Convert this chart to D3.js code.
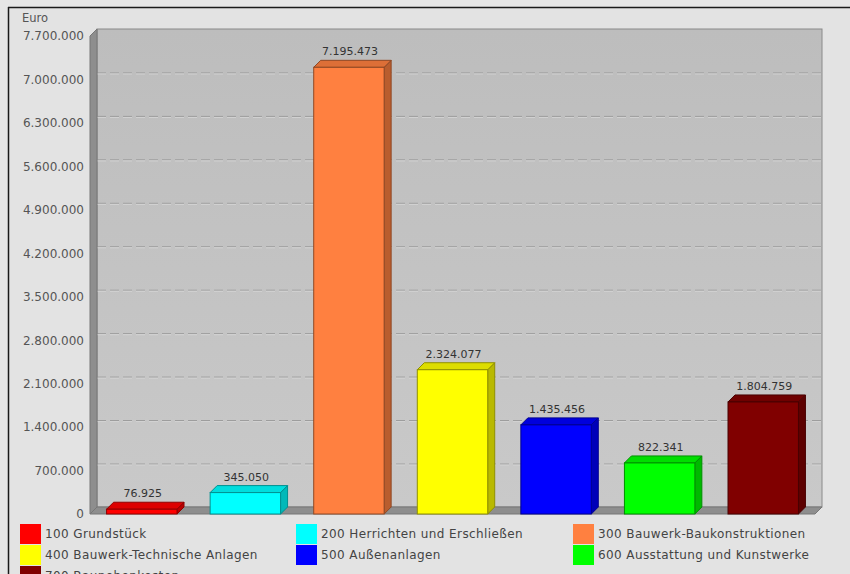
<!DOCTYPE html>
<html>
<head>
<meta charset="utf-8">
<script src="https://cdn.jsdelivr.net/npm/d3@7"></script>
<style>
  html, body { margin: 0; padding: 0; background: #e6e6e6; }
  svg { display: block; }
  text { font-family: "DejaVu Sans", Verdana, sans-serif; }
</style>
</head>
<body>
<svg id="chart" width="850" height="574"></svg>
<script>
// ---- data ----
const categories = [
  "100 Grundstück",
  "200 Herrichten und Erschließen",
  "300 Bauwerk-Baukonstruktionen",
  "400 Bauwerk-Technische Anlagen",
  "500 Außenanlagen",
  "600 Ausstattung und Kunstwerke",
  "700 Baunebenkosten"
];
const values = [76925, 345050, 7195473, 2324077, 1435456, 822341, 1804759];
const colors = ["#ff0000", "#00ffff", "#ff8040", "#ffff00", "#0000ff", "#00ff00", "#800000"];
const yTicks = [0, 700000, 1400000, 2100000, 2800000, 3500000, 4200000, 4900000, 5600000, 6300000, 7000000, 7700000];
const yUnit = "Euro";

// ---- setup ----
const svg = d3.select("#chart");
const de = d3.formatLocale({decimal: ",", thousands: ".", grouping: [3], currency: ["", " €"]});
const fmt = de.format(",.0f");

const x0 = 90, x1 = 815, yTop = 36, yBase = 514, depth = 7;
const x = d3.scaleBand().domain(categories).range([x0, x1]).paddingInner(0.32).paddingOuter(0.16);
const y = d3.scaleLinear().domain([0, 7700000]).range([yBase, yTop]);

// panel background + frame
svg.append("rect").attr("x", 8).attr("y", 7).attr("width", 842).attr("height", 567).attr("fill", "#e3e3e3");
svg.append("line").attr("x1", 8).attr("x2", 850).attr("y1", 7.5).attr("y2", 7.5).attr("stroke", "#1a1a1a").attr("stroke-width", 1.5);
svg.append("line").attr("x1", 8.5).attr("x2", 8.5).attr("y1", 7).attr("y2", 574).attr("stroke", "#1a1a1a").attr("stroke-width", 1.5);

// back wall
const wallGrad = svg.append("defs").append("linearGradient").attr("id", "wall").attr("x1", 0).attr("y1", 0).attr("x2", 0).attr("y2", 1);
wallGrad.append("stop").attr("offset", 0).attr("stop-color", "#bdbdbd");
wallGrad.append("stop").attr("offset", 1).attr("stop-color", "#c9c9c9");
svg.append("rect")
  .attr("x", x0 + depth).attr("y", yTop - depth)
  .attr("width", x1 - x0).attr("height", yBase - yTop)
  .attr("fill", "url(#wall)").attr("stroke", "#8a8a8a").attr("stroke-width", 1);

// gridlines on back wall
const grid = svg.append("g");
yTicks.filter(t => t > 0 && t < 7700000).forEach(t => {
  grid.append("line")
    .attr("x1", x0 + depth).attr("x2", x1 + depth)
    .attr("y1", y(t) - depth + 0.5).attr("y2", y(t) - depth + 0.5)
    .attr("stroke", "#9a9a9a").attr("stroke-dasharray", "9,4");
  grid.append("line")
    .attr("x1", x0 + depth).attr("x2", x1 + depth)
    .attr("y1", y(t) - depth + 1.5).attr("y2", y(t) - depth + 1.5)
    .attr("stroke", "#d4d4d4").attr("stroke-dasharray", "9,4");
});

// left wall
svg.append("path")
  .attr("d", `M${x0},${yTop} L${x0 + depth},${yTop - depth} L${x0 + depth},${yBase - depth} L${x0},${yBase} Z`)
  .attr("fill", "#8e8e8e").attr("stroke", "#777").attr("stroke-width", 1);
// floor
svg.append("path")
  .attr("d", `M${x0},${yBase} L${x0 + depth},${yBase - depth} L${x1 + depth},${yBase - depth} L${x1},${yBase} Z`)
  .attr("fill", "#8e8e8e").attr("stroke", "#777").attr("stroke-width", 1);

// y axis labels
const yAxis = d3.axisLeft(y).tickValues(yTicks).tickFormat(fmt).tickSize(0).tickPadding(6);
const ag = svg.append("g").attr("transform", `translate(${x0},0)`).call(yAxis);
ag.select(".domain").remove();
ag.selectAll("text").attr("font-size", 12).attr("fill", "#555").attr("font-family", "DejaVu Sans, sans-serif");
svg.append("text").attr("x", 22).attr("y", 22).attr("font-size", 11.5).attr("fill", "#555").text(yUnit);

// bars
const bw = x.bandwidth();
const bars = svg.append("g").selectAll("g").data(categories).join("g");
bars.each(function(c, i) {
  const g = d3.select(this);
  const bx = x(c), by = y(values[i]);
  const col = d3.color(colors[i]);
  const edge = col.darker(1.6).formatHex();
  // side
  g.append("path")
    .attr("d", `M${bx + bw},${by} L${bx + bw + depth},${by - depth} L${bx + bw + depth},${yBase - depth} L${bx + bw},${yBase} Z`)
    .attr("fill", col.darker(0.9).formatHex()).attr("stroke", edge).attr("stroke-width", 1);
  // top
  g.append("path")
    .attr("d", `M${bx},${by} L${bx + depth},${by - depth} L${bx + bw + depth},${by - depth} L${bx + bw},${by} Z`)
    .attr("fill", col.darker(0.4).formatHex()).attr("stroke", edge).attr("stroke-width", 1);
  // front
  g.append("rect")
    .attr("x", bx).attr("y", by).attr("width", bw).attr("height", yBase - by)
    .attr("fill", col.formatHex()).attr("stroke", edge).attr("stroke-width", 1);
  // value label
  g.append("text")
    .attr("x", bx + bw / 2 + 1).attr("y", by - depth - 5)
    .attr("text-anchor", "middle").attr("font-size", 11).attr("fill", "#333")
    .text(fmt(values[i]));
});

// legend
const legX = [20, 296, 573];
const legY0 = 524, legRow = 21;
const leg = svg.append("g").selectAll("g").data(categories).join("g")
  .attr("transform", (d, i) => `translate(${legX[i % 3]},${legY0 + Math.floor(i / 3) * legRow})`);
leg.append("rect").attr("width", 21).attr("height", 20).attr("fill", (d, i) => colors[i]);
leg.append("text").attr("x", 25).attr("y", 10).attr("dy", "0.35em")
  .attr("font-size", 12).attr("letter-spacing", 0.4).attr("fill", "#444").text(d => d);
</script>
</body>
</html>
